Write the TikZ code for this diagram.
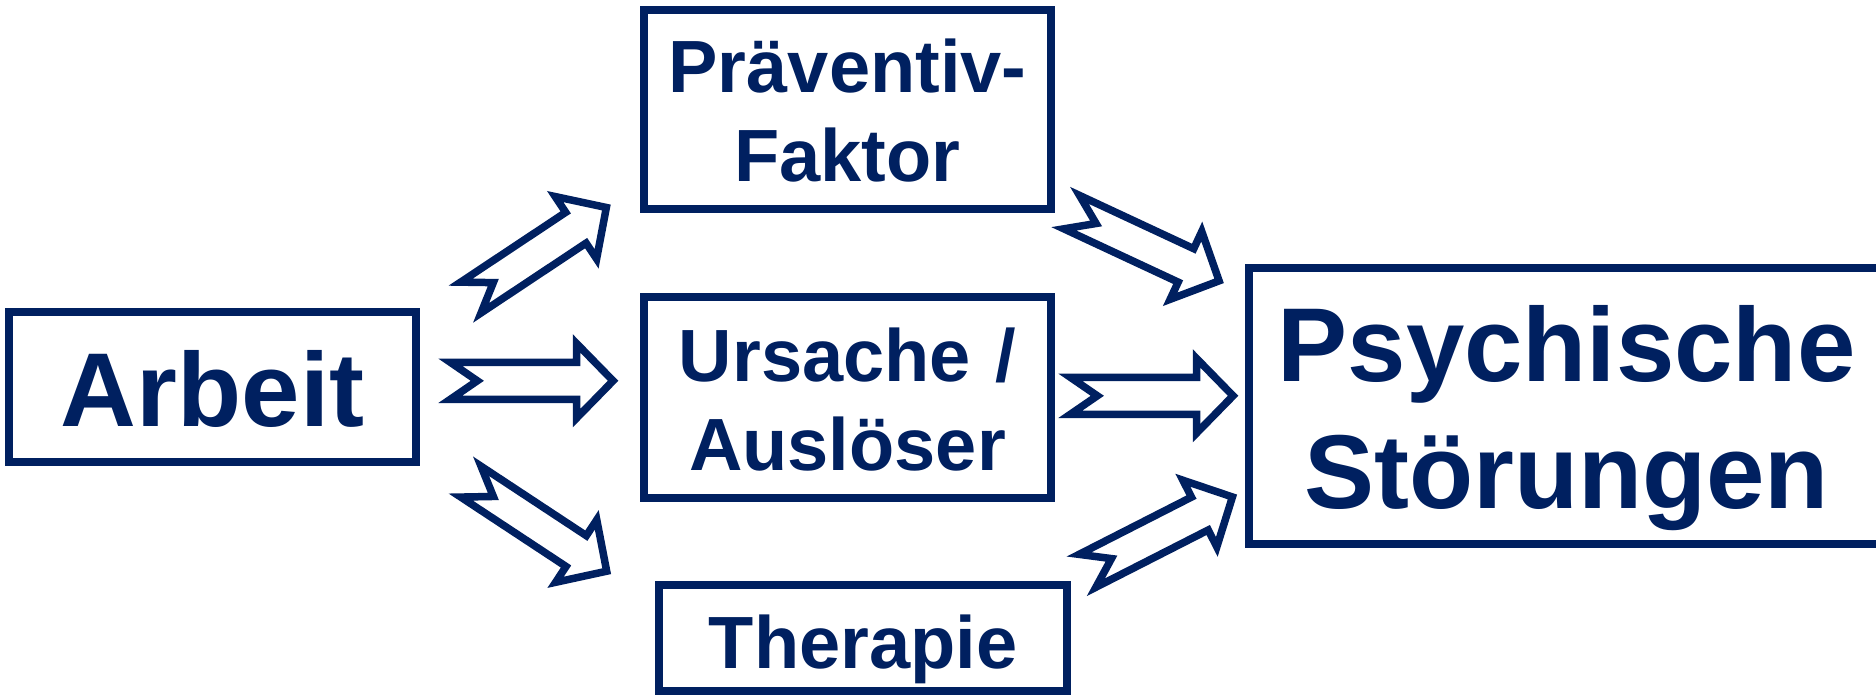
\documentclass[tikz,border=0pt]{standalone}
\usepackage{fontspec}
\setmainfont{Liberation Sans}
\definecolor{navy}{HTML}{002060}
\tikzset{
  box/.style={draw=navy, line width=8pt, text=navy, inner sep=0pt, align=center},
  bigfont/.style={font=\bfseries\fontsize{105}{127}\selectfont},
  midfont/.style={font=\bfseries\fontsize{74}{88.5}\selectfont},
  blockline/.style={draw=navy, line width=7.5pt, line join=miter, miter limit=10},
  notcharrow/.pic={
    \draw[blockline] (12.1,18.45) -- (138.2,18.45) -- (138.2,37.4) -- (174.76,0)
      -- (138.2,-37.4) -- (138.2,-18.45) -- (12.1,-18.45) -- (39,0) -- cycle;
  }
}
\begin{document}
\begin{tikzpicture}[x=1pt,y=-1pt]
\useasboundingbox (0,0) rectangle (1876,695);
\fill[white] (0,0) rectangle (1876,695);
\clip (0,0) rectangle (1876,695);

% boxes
\node[box, bigfont, minimum width=407pt, minimum height=150pt, text width=400pt,
      text height=78pt, text depth=0pt] (arbeit) at (212.5,387) {Arbeit};
\node[box, midfont, minimum width=407pt, minimum height=199pt, text width=400pt,
      text height=56pt, text depth=89pt] (praev) at (847.5,109.5) {Präventiv-\\Faktor};
\node[box, midfont, minimum width=407pt, minimum height=201pt, text width=400pt,
      text height=56pt, text depth=88pt] (ursache) at (847.5,397.8) {Ursache /\\Auslöser};
\node[box, midfont, minimum width=408pt, minimum height=106pt, text width=400pt,
      text height=60pt, text depth=0pt] (therapie) at (863,638) {Therapie};
\node[box, bigfont, minimum width=635pt, minimum height=276pt, text width=600pt,
      text height=80pt, text depth=130pt] (psych) at (1566.5,406) {Psychische\\Störungen};

% block arrows
\pic[rotate=33.6] at (460.8,304.2) {notcharrow};
\pic at (438.3,380.8) {notcharrow};
\pic[rotate=-33.4] at (460.8,475) {notcharrow};
\pic[rotate=-25.0] at (1060.7,207) {notcharrow};
\pic at (1058.3,395.8) {notcharrow};
\pic[rotate=27.0] at (1076.7,576.3) {notcharrow};
\end{tikzpicture}
\end{document}
